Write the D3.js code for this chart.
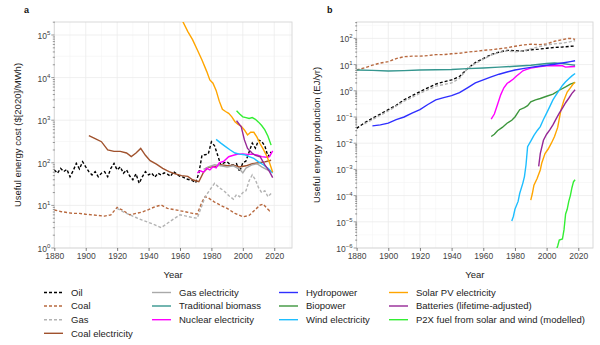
<!DOCTYPE html>
<html>
<head>
<meta charset="utf-8">
<script src="https://cdn.jsdelivr.net/npm/d3@7"></script>
<style>
  body { margin: 0; background: #fff; }
  svg { font-family: "Liberation Sans", Arial, sans-serif; }
</style>
</head>
<body>
<svg id="chart" width="600" height="345"></svg>
<script>
// ---- panel a: useful energy cost ($[2020]/MWh) ----
const costOil = [[1880,68],[1882,57],[1884,74],[1886,62],[1888,70],[1890,47],[1892,65],[1894,97],[1896,72],[1898,106],[1900,80],[1902,62],[1904,52],[1906,62],[1908,47],[1910,57],[1912,62],[1914,47],[1916,74],[1918,97],[1920,68],[1922,80],[1924,57],[1926,68],[1928,49],[1930,40],[1932,55],[1934,33],[1936,47],[1938,62],[1940,52],[1942,57],[1944,46],[1946,57],[1948,52],[1950,58],[1952,54],[1954,48],[1956,62],[1958,54],[1960,48],[1962,46],[1964,42],[1966,40],[1968,38],[1970,34],[1972,57],[1974,150],[1976,155],[1978,160],[1980,310],[1982,250],[1984,150],[1986,88],[1988,100],[1990,105],[1992,90],[1994,88],[1996,95],[1998,62],[2000,100],[2002,110],[2004,180],[2006,290],[2008,220],[2010,340],[2012,320],[2014,250],[2016,140],[2018,180]];
const costCoal = [[1880,7.8],[1884,7.2],[1888,6.8],[1892,6.5],[1896,6.5],[1900,6.2],[1904,6],[1908,5.8],[1912,5.6],[1916,6],[1920,9],[1924,7.5],[1928,6],[1932,6.5],[1936,7],[1940,8],[1944,9.3],[1948,10.2],[1952,8.5],[1956,8],[1960,7.5],[1964,7],[1968,6.5],[1971,6.3],[1974,12],[1976,16],[1978,15],[1982,12],[1986,10],[1990,8.5],[1995,6.5],[2000,5.4],[2004,5.8],[2008,8],[2011,10.2],[2013,10.7],[2015,8.8],[2017,7.5],[2018,8]];
const costGas = [[1920,8.5],[1924,7],[1928,6],[1932,5.2],[1936,4.5],[1940,4],[1944,3.5],[1948,3],[1952,3.8],[1956,4.8],[1960,6],[1964,5.6],[1968,5.2],[1971,5],[1974,10],[1976,16],[1979,23],[1982,33],[1985,26],[1988,22],[1991,17],[1994,14],[1996,18],[1998,16],[2000,20],[2002,22],[2004,38],[2006,52],[2008,40],[2010,26],[2012,20],[2014,22],[2016,16],[2018,19]];
const costCoalElec = [[1902,433],[1906,370],[1910,313],[1914,200],[1918,185],[1922,185],[1926,170],[1929,140],[1932,170],[1935,218],[1938,150],[1941,112],[1945,93],[1949,74],[1953,62],[1957,55],[1961,50],[1965,48],[1968,40],[1972,36],[1975,60],[1978,78],[1982,82],[1986,90],[1990,85],[1994,88],[1998,80],[2002,85],[2006,95],[2010,100],[2014,105],[2018,115]];
const costGasElec = [[1975,70],[1978,80],[1982,90],[1986,85],[1990,80],[1994,85],[1998,70],[2000,58],[2002,75],[2006,90],[2009,95],[2012,80],[2015,70],[2018,62]];
const costNuclear = [[1971,58],[1973,65],[1975,60],[1977,74],[1979,68],[1981,81],[1983,76],[1985,100],[1988,110],[1991,139],[1994,150],[1997,160],[2000,162],[2003,158],[2006,160],[2009,152],[2012,140],[2015,135],[2017,140],[2019,190]];
const costWind = [[1983,355],[1986,290],[1989,240],[1992,200],[1995,170],[1998,160],[2001,155],[2004,140],[2007,127],[2010,105],[2013,90],[2016,74],[2019,58]];
const costSolar = [[1958,400000],[1962,200000],[1965,120000],[1968,78000],[1971,45000],[1974,26000],[1977,14000],[1979,8800],[1981,7400],[1983,5000],[1985,2800],[1987,1800],[1989,1600],[1991,1450],[1993,1200],[1995,920],[1997,800],[1999,720],[2001,590],[2003,450],[2005,520],[2007,520],[2009,400],[2011,280],[2013,210],[2015,150],[2017,100],[2019,60]];
const costBatteries = [[1996,970],[1999,700],[2001,345],[2003,218],[2006,167],[2008,150],[2011,139],[2014,89],[2017,62],[2019,45]];
const costP2X = [[1996,1670],[1998,1400],[2000,1200],[2002,1150],[2004,1100],[2006,1150],[2008,1050],[2010,900],[2012,750],[2014,590],[2016,420],[2018,260]];

// ---- panel b: useful energy production (EJ/yr) ----
const prodOil = [[1880,0.037],[1885,0.06],[1890,0.089],[1895,0.13],[1900,0.19],[1905,0.28],[1910,0.45],[1915,0.65],[1920,0.93],[1925,1.3],[1930,1.8],[1935,2.2],[1940,2.6],[1945,3.5],[1950,7],[1955,12],[1960,17],[1965,24],[1970,30],[1975,35],[1980,34],[1985,33],[1990,37],[1995,39],[2000,42],[2005,45],[2010,47],[2015,50],[2018,51]];
const prodCoal = [[1880,6.2],[1885,7.5],[1890,9.5],[1895,11.5],[1900,13],[1905,17],[1910,20],[1915,21],[1920,21],[1925,22],[1930,24],[1935,24],[1940,26],[1945,27],[1950,30],[1955,32],[1960,35],[1965,37],[1970,40],[1975,44],[1980,50],[1985,56],[1990,60],[1995,58],[2000,61],[2005,78],[2010,90],[2014,100],[2016,98],[2018,92]];
const prodGas = [[1885,0.055],[1890,0.08],[1900,0.17],[1910,0.4],[1920,0.8],[1930,1.5],[1940,2],[1945,3],[1950,7],[1955,11],[1960,16],[1965,23],[1970,29],[1975,33],[1980,31],[1985,33],[1990,40],[1995,48],[2000,56],[2005,62],[2010,66],[2015,75],[2018,82]];
const prodBiomass = [[1880,6.2],[1890,6],[1900,5.7],[1910,5.9],[1920,6.2],[1930,6.4],[1940,6.5],[1950,7],[1960,7.4],[1970,8],[1980,8.6],[1990,9.5],[2000,11],[2005,11.5],[2010,11],[2015,10],[2018,9.5]];
const prodHydro = [[1890,0.046],[1895,0.05],[1900,0.058],[1905,0.08],[1910,0.1],[1915,0.14],[1920,0.19],[1925,0.3],[1930,0.45],[1935,0.55],[1940,0.65],[1945,0.85],[1950,1.3],[1955,2],[1960,2.6],[1965,3.4],[1970,4.3],[1975,5.2],[1980,6.2],[1985,7],[1990,7.8],[1995,8.6],[2000,9.5],[2005,10.3],[2010,11.5],[2015,13],[2018,14]];
const prodNuclear = [[1965,0.083],[1967,0.13],[1969,0.3],[1971,0.7],[1973,1.3],[1975,1.9],[1977,2.3],[1979,2.8],[1981,3.7],[1983,4.6],[1985,5.8],[1987,6.4],[1990,7.3],[1995,8.3],[2000,9],[2005,9.3],[2010,9],[2012,8],[2015,8.3],[2018,8.5]];
const prodBiopower = [[1965,0.018],[1967,0.022],[1969,0.03],[1972,0.04],[1975,0.058],[1978,0.075],[1980,0.1],[1983,0.19],[1986,0.23],[1988,0.27],[1990,0.38],[1993,0.45],[1996,0.51],[2000,0.62],[2004,0.75],[2008,1.05],[2012,1.4],[2015,1.8],[2018,2.1]];
const prodWind = [[1978,1.07e-5],[1979,1.6e-5],[1980,3e-5],[1982,6e-5],[1983,1.2e-4],[1985,3e-4],[1986,5.3e-4],[1987,1.5e-3],[1988,7.4e-3],[1990,0.012],[1992,0.02],[1994,0.03],[1996,0.043],[1998,0.08],[2000,0.14],[2002,0.25],[2004,0.45],[2006,0.7],[2008,1.07],[2010,1.6],[2012,2.2],[2014,2.9],[2016,3.7],[2018,4.6]];
const prodSolar = [[1990,6.7e-5],[1991,1.2e-4],[1992,2.5e-4],[1994,4.5e-4],[1996,9.5e-4],[1997,1.8e-3],[1999,4e-3],[2001,6e-3],[2003,0.01],[2005,0.018],[2007,0.04],[2009,0.18],[2011,0.45],[2013,0.9],[2015,1.3],[2017,1.9],[2018,2.1]];
const prodBatteries = [[1995,1.3e-3],[1996,4e-3],[1998,0.013],[2000,0.022],[2002,0.032],[2004,0.05],[2006,0.085],[2008,0.14],[2010,0.22],[2012,0.35],[2014,0.52],[2016,0.8],[2018,1.1]];
const prodP2X = [[2006,8e-7],[2007,1.2e-6],[2008,2e-6],[2010,2.2e-6],[2011,5e-6],[2012,2e-5],[2013,3e-5],[2014,6e-5],[2015,1e-4],[2016,2e-4],[2017,3.4e-4],[2018,4e-4]];

const yearTicks = [1880, 1900, 1920, 1940, 1960, 1980, 2000, 2020];
const costExponents = [0, 1, 2, 3, 4, 5];
const prodExponents = [-6, -5, -4, -3, -2, -1, 0, 1, 2];

// legend order = drawing order
const series = [
  { name: 'Oil', color: '#000000', dash: '3,2', a: costOil, b: prodOil },
  { name: 'Coal', color: '#b8693f', dash: '3,2', a: costCoal, b: prodCoal },
  { name: 'Gas', color: '#b3b3b3', dash: '3,2', a: costGas, b: prodGas },
  { name: 'Coal electricity', color: '#a0522d', dash: null, a: costCoalElec, b: null },
  { name: 'Gas electricity', color: '#a9a9a9', dash: null, a: costGasElec, b: null },
  { name: 'Traditional biomass', color: '#35968f', dash: null, a: null, b: prodBiomass },
  { name: 'Nuclear electricity', color: '#ff00ff', dash: null, a: costNuclear, b: prodNuclear },
  { name: 'Hydropower', color: '#2f2fff', dash: null, a: null, b: prodHydro },
  { name: 'Biopower', color: '#3d963d', dash: null, a: null, b: prodBiopower },
  { name: 'Wind electricity', color: '#1ebeff', dash: null, a: costWind, b: prodWind },
  { name: 'Solar PV electricity', color: '#ffa500', dash: null, a: costSolar, b: prodSolar },
  { name: 'Batteries (lifetime-adjusted)', color: '#962896', dash: null, a: costBatteries, b: prodBatteries },
  { name: 'P2X fuel from solar and wind (modelled)', color: '#33ee33', dash: null, a: costP2X, b: prodP2X }
];

const svg = d3.select('#chart');

function drawPanel(opts) {
  const x = d3.scaleLinear().domain([1880, opts.xMax]).range([opts.left, opts.right]);
  const y = d3.scaleLog().domain(opts.yDomain).range([opts.bottom, opts.top]);
  const g = svg.append('g');

  // minor grid
  const minorYears = d3.range(1890, opts.xMax, 20);
  g.selectAll('.vminor').data(minorYears).enter().append('line')
    .attr('x1', (d) => x(d)).attr('x2', (d) => x(d))
    .attr('y1', opts.top).attr('y2', opts.bottom)
    .attr('stroke', '#f4f4f4').attr('stroke-width', 0.6);
  const midExp = opts.exps.map((e) => e + 0.5);
  g.selectAll('.hminor').data(midExp.filter((e) => Math.pow(10, e) < opts.yDomain[1])).enter().append('line')
    .attr('x1', opts.left).attr('x2', opts.right)
    .attr('y1', (d) => y(Math.pow(10, d))).attr('y2', (d) => y(Math.pow(10, d)))
    .attr('stroke', '#f4f4f4').attr('stroke-width', 0.6);

  // major grid
  g.selectAll('.vmajor').data(yearTicks).enter().append('line')
    .attr('x1', (d) => x(d)).attr('x2', (d) => x(d))
    .attr('y1', opts.top).attr('y2', opts.bottom)
    .attr('stroke', '#ebebeb').attr('stroke-width', 0.8);
  g.selectAll('.hmajor').data(opts.exps).enter().append('line')
    .attr('x1', opts.left).attr('x2', opts.right)
    .attr('y1', (d) => y(Math.pow(10, d))).attr('y2', (d) => y(Math.pow(10, d)))
    .attr('stroke', '#ebebeb').attr('stroke-width', 0.8);

  // panel border
  g.append('rect')
    .attr('x', opts.left).attr('y', opts.top)
    .attr('width', opts.right - opts.left).attr('height', opts.bottom - opts.top)
    .attr('fill', 'none').attr('stroke', '#d6d6d6').attr('stroke-width', 0.9);

  // log ticks on the left edge
  const logTicks = [];
  opts.exps.forEach((e) => {
    for (let k = 1; k < 10; k++) {
      const v = k * Math.pow(10, e);
      if (v <= opts.yDomain[1]) logTicks.push({ v, major: k === 1 });
    }
  });
  g.selectAll('.logtick').data(logTicks).enter().append('line')
    .attr('x1', (d) => opts.left - (d.major ? 3 : 1.5))
    .attr('x2', (d) => opts.left + (d.major ? 0 : 0.5))
    .attr('y1', (d) => y(d.v)).attr('y2', (d) => y(d.v))
    .attr('stroke', '#555').attr('stroke-width', 0.6);

  // x axis
  const xAxis = g.append('g')
    .attr('transform', `translate(0,${opts.bottom})`)
    .call(d3.axisBottom(x).tickValues(yearTicks).tickFormat(d3.format('d')).tickSize(3).tickPadding(2));
  xAxis.select('.domain').remove();
  xAxis.selectAll('line').attr('stroke', '#444').attr('stroke-width', 0.7);
  xAxis.selectAll('text')
    .attr('fill', '#444').attr('font-size', 8.5)
    .attr('font-family', '"Liberation Sans", Arial, sans-serif');

  // y tick labels with superscripts
  const yLab = g.selectAll('.ylab').data(opts.exps).enter().append('text')
    .attr('x', opts.left - 4)
    .attr('y', (d) => y(Math.pow(10, d)) + 4)
    .attr('text-anchor', 'end')
    .attr('fill', '#444').attr('font-size', 8.5);
  yLab.append('tspan').text('10');
  yLab.append('tspan')
    .attr('dy', -4).attr('font-size', 6)
    .text((d) => (d < 0 ? '\u2212' + Math.abs(d) : String(d)));

  // axis titles
  g.append('text')
    .attr('x', (opts.left + opts.right) / 2).attr('y', 278)
    .attr('text-anchor', 'middle').attr('font-size', 9.5).attr('fill', '#222')
    .text('Year');
  g.append('text')
    .attr('transform', `translate(${opts.titleX},${(opts.top + opts.bottom) / 2}) rotate(-90)`)
    .attr('text-anchor', 'middle').attr('font-size', 9.5).attr('fill', '#222')
    .text(opts.yTitle);
  g.append('text')
    .attr('x', opts.labelX).attr('y', 13)
    .attr('font-size', 9).attr('font-weight', 'bold').attr('fill', '#111')
    .text(opts.label);

  // lines
  const clipId = 'clip-' + opts.label;
  svg.append('clipPath').attr('id', clipId).append('rect')
    .attr('x', opts.left).attr('y', opts.top)
    .attr('width', opts.right - opts.left).attr('height', opts.bottom - opts.top);
  const line = d3.line().x((d) => x(d[0])).y((d) => y(d[1]));
  const lines = g.append('g').attr('clip-path', `url(#${clipId})`);
  series.filter((s) => s[opts.key]).forEach((s) => {
    lines.append('path')
      .datum(s[opts.key])
      .attr('d', line)
      .attr('fill', 'none')
      .attr('stroke', s.color)
      .attr('stroke-width', 1.4)
      .attr('stroke-dasharray', s.dash);
  });
}

drawPanel({
  key: 'a', label: 'a', labelX: 24, titleX: 21,
  left: 54.3, right: 292, top: 22, bottom: 248,
  xMax: 2031.3, yDomain: [1, Math.pow(10, 5.305)], exps: costExponents,
  yTitle: 'Useful energy cost ($[2020]/MWh)'
});
drawPanel({
  key: 'b', label: 'b', labelX: 327, titleX: 320,
  left: 356.6, right: 593, top: 22, bottom: 248,
  xMax: 2029.3, yDomain: [1e-6, Math.pow(10, 2.626)], exps: prodExponents,
  yTitle: 'Useful energy production (EJ/yr)'
});

// legend
const legendCols = [
  { lineX: 44, textX: 71 },
  { lineX: 152, textX: 179 },
  { lineX: 279, textX: 306 },
  { lineX: 389, textX: 416 }
];
const legendRows = [292.5, 306, 319.7, 333.3];
const legendCounts = [4, 3, 3, 3];
let idx = 0;
legendCols.forEach((c, ci) => {
  for (let r = 0; r < legendCounts[ci]; r++) {
    const s = series[idx++];
    const ly = legendRows[r];
    const item = svg.append('g');
    item.append('line')
      .attr('x1', c.lineX).attr('x2', c.lineX + 19)
      .attr('y1', ly).attr('y2', ly)
      .attr('stroke', s.color).attr('stroke-width', 1.4)
      .attr('stroke-dasharray', s.dash);
    item.append('text')
      .attr('x', c.textX).attr('y', ly + 3.3)
      .attr('font-size', 9.5).attr('fill', '#222')
      .text(s.name);
  }
});
</script>
</body>
</html>
